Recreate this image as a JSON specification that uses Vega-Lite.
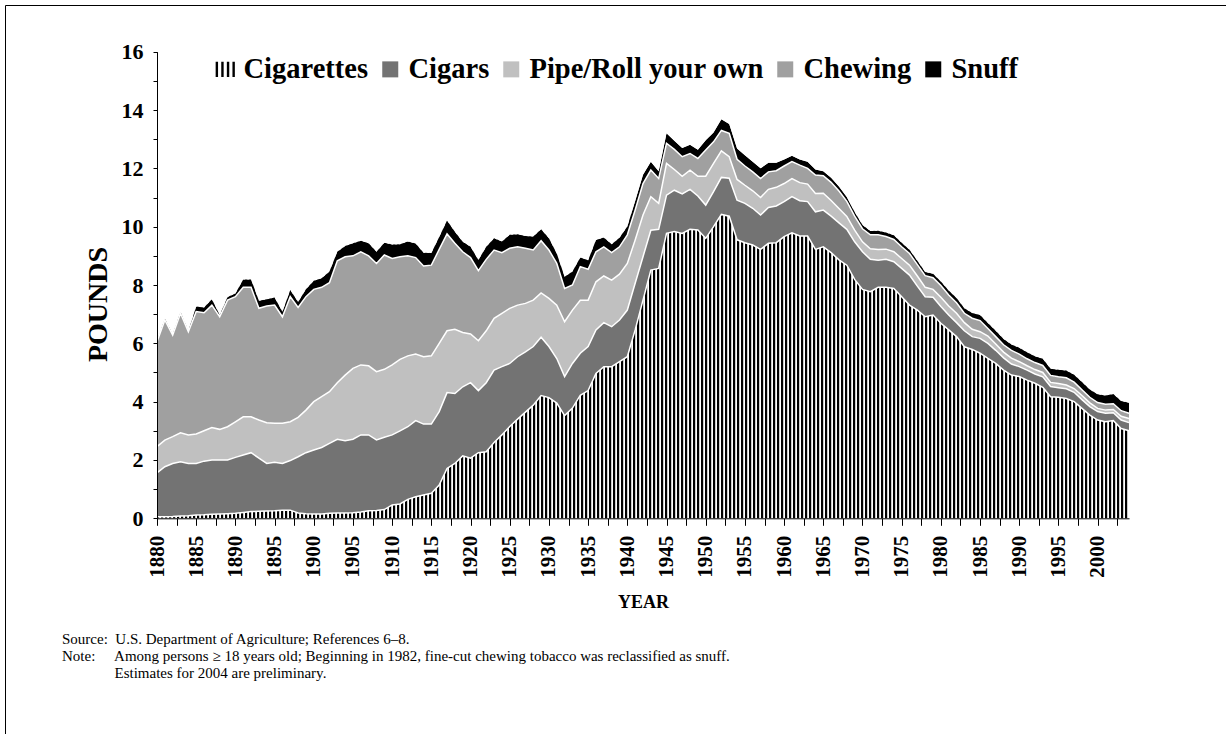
{
  "$schema": "https://vega.github.io/schema/vega-lite/v6.json",
  "width": 1221,
  "height": 729,
  "autosize": {"type": "none"},
  "padding": {"left": 5, "top": 5, "right": 0, "bottom": 0},
  "background": "white",
  "config": {
    "font": "Liberation Serif",
    "view": {"stroke": "#000", "strokeWidth": 1, "fill": "white"},
    "axis": {"labelFont": "Liberation Serif", "titleFont": "Liberation Serif", "labelColor": "#000", "titleColor": "#000", "domainColor": "#000", "tickColor": "#000", "grid": false}
  },
  "title": {
    "text": [
      "Source:\u00a0\u00a0U.S. Department of Agriculture; References 6\u20138.",
      "Note:\u00a0\u00a0\u00a0\u00a0\u00a0Among persons \u2265 18 years old; Beginning in 1982, fine-cut chewing tobacco was reclassified as snuff.",
      "\u200b\u00a0\u00a0\u00a0\u00a0\u00a0\u00a0\u00a0\u00a0\u00a0\u00a0\u00a0\u00a0\u00a0\u00a0Estimates for 2004 are preliminary."
    ],
    "orient": "bottom",
    "anchor": "start",
    "frame": "group",
    "offset": -102,
    "dx": 57,
    "font": "Liberation Serif",
    "fontSize": 15,
    "fontWeight": "normal",
    "lineHeight": 17,
    "baseline": "top",
    "color": "#000"
  },
  "data": {
    "values": [
      {"y":1880,"a":0.05,"b":1.51,"c":0.90,"d":3.59,"e":0.03},
      {"y":1881,"a":0.05,"b":1.72,"c":0.91,"d":4.12,"e":0.05},
      {"y":1882,"a":0.06,"b":1.82,"c":0.92,"d":3.48,"e":0.03},
      {"y":1883,"a":0.08,"b":1.86,"c":0.99,"d":4.10,"e":0.05},
      {"y":1884,"a":0.09,"b":1.79,"c":0.98,"d":3.54,"e":0.03},
      {"y":1885,"a":0.11,"b":1.77,"c":1.01,"d":4.20,"e":0.17},
      {"y":1886,"a":0.12,"b":1.84,"c":1.04,"d":4.05,"e":0.18},
      {"y":1887,"a":0.14,"b":1.86,"c":1.11,"d":4.20,"e":0.20},
      {"y":1888,"a":0.15,"b":1.85,"c":1.05,"d":3.86,"e":0.06},
      {"y":1889,"a":0.16,"b":1.84,"c":1.14,"d":4.34,"e":0.11},
      {"y":1890,"a":0.17,"b":1.92,"c":1.22,"d":4.29,"e":0.11},
      {"y":1891,"a":0.20,"b":1.97,"c":1.31,"d":4.44,"e":0.27},
      {"y":1892,"a":0.23,"b":2.02,"c":1.23,"d":4.44,"e":0.27},
      {"y":1893,"a":0.24,"b":1.82,"c":1.31,"d":3.83,"e":0.26},
      {"y":1894,"a":0.25,"b":1.63,"c":1.40,"d":4.00,"e":0.23},
      {"y":1895,"a":0.26,"b":1.66,"c":1.34,"d":4.05,"e":0.26},
      {"y":1896,"a":0.28,"b":1.60,"c":1.38,"d":3.65,"e":0.17},
      {"y":1897,"a":0.28,"b":1.70,"c":1.33,"d":4.29,"e":0.23},
      {"y":1898,"a":0.18,"b":1.93,"c":1.35,"d":3.77,"e":0.19},
      {"y":1899,"a":0.16,"b":2.09,"c":1.46,"d":3.89,"e":0.25},
      {"y":1900,"a":0.15,"b":2.19,"c":1.66,"d":3.85,"e":0.30},
      {"y":1901,"a":0.15,"b":2.28,"c":1.74,"d":3.75,"e":0.31},
      {"y":1902,"a":0.17,"b":2.40,"c":1.77,"d":3.74,"e":0.38},
      {"y":1903,"a":0.18,"b":2.53,"c":1.94,"d":4.18,"e":0.31},
      {"y":1904,"a":0.18,"b":2.48,"c":2.25,"d":4.06,"e":0.37},
      {"y":1905,"a":0.19,"b":2.52,"c":2.43,"d":3.86,"e":0.43},
      {"y":1906,"a":0.22,"b":2.64,"c":2.40,"d":3.88,"e":0.38},
      {"y":1907,"a":0.26,"b":2.60,"c":2.37,"d":3.77,"e":0.43},
      {"y":1908,"a":0.27,"b":2.42,"c":2.34,"d":3.71,"e":0.40},
      {"y":1909,"a":0.30,"b":2.48,"c":2.33,"d":3.92,"e":0.42},
      {"y":1910,"a":0.46,"b":2.40,"c":2.40,"d":3.65,"e":0.48},
      {"y":1911,"a":0.49,"b":2.51,"c":2.45,"d":3.52,"e":0.43},
      {"y":1912,"a":0.65,"b":2.49,"c":2.43,"d":3.43,"e":0.49},
      {"y":1913,"a":0.74,"b":2.61,"c":2.28,"d":3.31,"e":0.48},
      {"y":1914,"a":0.80,"b":2.43,"c":2.31,"d":3.11,"e":0.46},
      {"y":1915,"a":0.86,"b":2.37,"c":2.34,"d":3.11,"e":0.42},
      {"y":1916,"a":1.14,"b":2.52,"c":2.34,"d":3.22,"e":0.43},
      {"y":1917,"a":1.71,"b":2.60,"c":2.12,"d":3.32,"e":0.46},
      {"y":1918,"a":1.88,"b":2.40,"c":2.20,"d":2.95,"e":0.40},
      {"y":1919,"a":2.14,"b":2.37,"c":1.86,"d":2.77,"e":0.34},
      {"y":1920,"a":2.06,"b":2.59,"c":1.67,"d":2.62,"e":0.37},
      {"y":1921,"a":2.25,"b":2.13,"c":1.71,"d":2.40,"e":0.37},
      {"y":1922,"a":2.28,"b":2.37,"c":1.78,"d":2.45,"e":0.43},
      {"y":1923,"a":2.60,"b":2.48,"c":1.78,"d":2.34,"e":0.40},
      {"y":1924,"a":2.86,"b":2.34,"c":1.83,"d":2.08,"e":0.38},
      {"y":1925,"a":3.15,"b":2.16,"c":1.89,"d":2.06,"e":0.46},
      {"y":1926,"a":3.40,"b":2.14,"c":1.77,"d":2.00,"e":0.43},
      {"y":1927,"a":3.64,"b":2.07,"c":1.66,"d":1.89,"e":0.42},
      {"y":1928,"a":3.88,"b":2.01,"c":1.59,"d":1.72,"e":0.46},
      {"y":1929,"a":4.21,"b":2.00,"c":1.52,"d":1.79,"e":0.39},
      {"y":1930,"a":4.14,"b":1.75,"c":1.65,"d":1.66,"e":0.40},
      {"y":1931,"a":3.95,"b":1.53,"c":1.83,"d":1.43,"e":0.34},
      {"y":1932,"a":3.52,"b":1.34,"c":1.88,"d":1.14,"e":0.40},
      {"y":1933,"a":3.78,"b":1.53,"c":1.83,"d":0.86,"e":0.46},
      {"y":1934,"a":4.22,"b":1.44,"c":1.82,"d":1.15,"e":0.31},
      {"y":1935,"a":4.38,"b":1.51,"c":1.59,"d":1.06,"e":0.31},
      {"y":1936,"a":4.97,"b":1.49,"c":1.65,"d":1.03,"e":0.40},
      {"y":1937,"a":5.20,"b":1.51,"c":1.60,"d":1.00,"e":0.32},
      {"y":1938,"a":5.20,"b":1.37,"c":1.60,"d":0.94,"e":0.29},
      {"y":1939,"a":5.37,"b":1.43,"c":1.57,"d":0.94,"e":0.31},
      {"y":1940,"a":5.54,"b":1.60,"c":1.60,"d":0.98,"e":0.29},
      {"y":1941,"a":6.46,"b":1.60,"c":1.48,"d":1.03,"e":0.31},
      {"y":1942,"a":7.48,"b":1.49,"c":1.43,"d":1.08,"e":0.30},
      {"y":1943,"a":8.51,"b":1.37,"c":1.15,"d":0.91,"e":0.29},
      {"y":1944,"a":8.57,"b":1.34,"c":0.89,"d":0.85,"e":0.25},
      {"y":1945,"a":9.77,"b":1.31,"c":1.09,"d":0.69,"e":0.34},
      {"y":1946,"a":9.83,"b":1.42,"c":0.71,"d":0.69,"e":0.30},
      {"y":1947,"a":9.77,"b":1.35,"c":0.61,"d":0.67,"e":0.30},
      {"y":1948,"a":9.91,"b":1.37,"c":0.66,"d":0.57,"e":0.30},
      {"y":1949,"a":9.89,"b":1.16,"c":0.68,"d":0.61,"e":0.30},
      {"y":1950,"a":9.60,"b":1.14,"c":0.99,"d":0.90,"e":0.33},
      {"y":1951,"a":10.00,"b":1.20,"c":0.97,"d":0.74,"e":0.32},
      {"y":1952,"a":10.42,"b":1.27,"c":0.91,"d":0.70,"e":0.38},
      {"y":1953,"a":10.36,"b":1.30,"c":0.74,"d":0.80,"e":0.32},
      {"y":1954,"a":9.55,"b":1.36,"c":0.71,"d":0.69,"e":0.37},
      {"y":1955,"a":9.45,"b":1.35,"c":0.62,"d":0.66,"e":0.37},
      {"y":1956,"a":9.37,"b":1.26,"c":0.60,"d":0.65,"e":0.35},
      {"y":1957,"a":9.22,"b":1.18,"c":0.60,"d":0.65,"e":0.35},
      {"y":1958,"a":9.43,"b":1.23,"c":0.62,"d":0.60,"e":0.31},
      {"y":1959,"a":9.45,"b":1.26,"c":0.64,"d":0.57,"e":0.27},
      {"y":1960,"a":9.66,"b":1.20,"c":0.62,"d":0.60,"e":0.22},
      {"y":1961,"a":9.79,"b":1.24,"c":0.62,"d":0.58,"e":0.20},
      {"y":1962,"a":9.68,"b":1.21,"c":0.62,"d":0.60,"e":0.19},
      {"y":1963,"a":9.68,"b":1.18,"c":0.60,"d":0.54,"e":0.23},
      {"y":1964,"a":9.22,"b":1.29,"c":0.63,"d":0.63,"e":0.19},
      {"y":1965,"a":9.31,"b":1.26,"c":0.58,"d":0.60,"e":0.15},
      {"y":1966,"a":9.11,"b":1.25,"c":0.54,"d":0.62,"e":0.16},
      {"y":1967,"a":8.86,"b":1.27,"c":0.49,"d":0.60,"e":0.16},
      {"y":1968,"a":8.68,"b":1.23,"c":0.44,"d":0.52,"e":0.15},
      {"y":1969,"a":8.19,"b":1.29,"c":0.40,"d":0.48,"e":0.14},
      {"y":1970,"a":7.85,"b":1.29,"c":0.34,"d":0.45,"e":0.13},
      {"y":1971,"a":7.77,"b":1.11,"c":0.36,"d":0.48,"e":0.13},
      {"y":1972,"a":7.92,"b":0.93,"c":0.37,"d":0.50,"e":0.14},
      {"y":1973,"a":7.92,"b":0.96,"c":0.35,"d":0.43,"e":0.14},
      {"y":1974,"a":7.88,"b":0.92,"c":0.34,"d":0.42,"e":0.15},
      {"y":1975,"a":7.60,"b":0.97,"c":0.34,"d":0.40,"e":0.14},
      {"y":1976,"a":7.31,"b":1.03,"c":0.34,"d":0.40,"e":0.13},
      {"y":1977,"a":7.14,"b":0.82,"c":0.35,"d":0.39,"e":0.13},
      {"y":1978,"a":6.91,"b":0.69,"c":0.32,"d":0.40,"e":0.13},
      {"y":1979,"a":6.97,"b":0.61,"c":0.27,"d":0.40,"e":0.14},
      {"y":1980,"a":6.69,"b":0.57,"c":0.32,"d":0.40,"e":0.14},
      {"y":1981,"a":6.46,"b":0.51,"c":0.31,"d":0.38,"e":0.15},
      {"y":1982,"a":6.23,"b":0.48,"c":0.32,"d":0.36,"e":0.16},
      {"y":1983,"a":5.88,"b":0.55,"c":0.28,"d":0.32,"e":0.17},
      {"y":1984,"a":5.79,"b":0.44,"c":0.25,"d":0.38,"e":0.18},
      {"y":1985,"a":5.66,"b":0.51,"c":0.23,"d":0.38,"e":0.19},
      {"y":1986,"a":5.48,"b":0.52,"c":0.25,"d":0.26,"e":0.19},
      {"y":1987,"a":5.31,"b":0.45,"c":0.22,"d":0.25,"e":0.20},
      {"y":1988,"a":5.08,"b":0.42,"c":0.20,"d":0.25,"e":0.20},
      {"y":1989,"a":4.91,"b":0.38,"c":0.20,"d":0.27,"e":0.20},
      {"y":1990,"a":4.86,"b":0.34,"c":0.17,"d":0.26,"e":0.22},
      {"y":1991,"a":4.74,"b":0.34,"c":0.15,"d":0.24,"e":0.22},
      {"y":1992,"a":4.63,"b":0.32,"c":0.15,"d":0.24,"e":0.22},
      {"y":1993,"a":4.49,"b":0.36,"c":0.15,"d":0.24,"e":0.23},
      {"y":1994,"a":4.17,"b":0.35,"c":0.14,"d":0.24,"e":0.23},
      {"y":1995,"a":4.15,"b":0.33,"c":0.14,"d":0.23,"e":0.24},
      {"y":1996,"a":4.11,"b":0.33,"c":0.13,"d":0.25,"e":0.25},
      {"y":1997,"a":4.00,"b":0.32,"c":0.13,"d":0.22,"e":0.25},
      {"y":1998,"a":3.77,"b":0.30,"c":0.14,"d":0.20,"e":0.26},
      {"y":1999,"a":3.54,"b":0.29,"c":0.13,"d":0.19,"e":0.27},
      {"y":2000,"a":3.37,"b":0.29,"c":0.11,"d":0.20,"e":0.28},
      {"y":2001,"a":3.31,"b":0.29,"c":0.11,"d":0.20,"e":0.30},
      {"y":2002,"a":3.35,"b":0.27,"c":0.11,"d":0.20,"e":0.33},
      {"y":2003,"a":3.08,"b":0.29,"c":0.13,"d":0.19,"e":0.33},
      {"y":2004,"a":3.00,"b":0.28,"c":0.14,"d":0.18,"e":0.36}
    ]
  },
  "transform": [
    {"fold": ["a", "b", "c", "d", "e"], "as": ["k", "v"]},
    {"stack": "v", "groupby": ["y"], "sort": [{"field": "k", "order": "ascending"}], "as": ["v0", "v1"]}
  ],
  "encoding": {
    "x": {
      "field": "y",
      "type": "quantitative",
      "scale": {"domain": [1880, 2004], "range": [152, 1124], "nice": false, "zero": false},
      "axis": {
        "values": [1880,1882.5,1885,1887.5,1890,1892.5,1895,1897.5,1900,1902.5,1905,1907.5,1910,1912.5,1915,1917.5,1920,1922.5,1925,1927.5,1930,1932.5,1935,1937.5,1940,1942.5,1945,1947.5,1950,1952.5,1955,1957.5,1960,1962.5,1965,1967.5,1970,1972.5,1975,1977.5,1980,1982.5,1985,1987.5,1990,1992.5,1995,1997.5,2000,2002.5],
        "format": "d",
        "labelExpr": "datum.value % 5 === 0 ? datum.label : ''",
        "labelAngle": -90,
        "labelFontSize": 21,
        "labelFontWeight": "bold",
        "labelPadding": 10,
        "labelOverlap": false,
        "labelFlush": false,
        "tickSize": 7,
        "title": "YEAR",
        "titleFontSize": 18,
        "titleFontWeight": "bold",
        "titlePadding": 16,
        "offset": -215.7,
        "zindex": 1
      }
    },
    "y": {
      "field": "v1",
      "type": "quantitative",
      "scale": {"domain": [0, 16], "range": [513.3, 46.7], "nice": false},
      "axis": {
        "values": [0,1,2,3,4,5,6,7,8,9,10,11,12,13,14,15,16],
        "labelExpr": "datum.value % 2 === 0 ? datum.label : ''",
        "labelFontSize": 22,
        "labelFontWeight": "bold",
        "labelPadding": 10,
        "tickSize": 4,
        "title": "POUNDS",
        "titleFontSize": 28,
        "titleFontWeight": "bold",
        "titlePadding": 9,
        "titleY": 299,
        "offset": -152,
        "zindex": 1
      }
    }
  },
  "layer": [
    {
      "transform": [{"filter": "datum.y === 1880 && datum.k === 'a'"}],
      "mark": {"type": "rule", "color": "#000", "strokeWidth": 309, "strokeDash": [2.2, 1.8], "strokeCap": "butt"},
      "encoding": {
        "x": {"datum": 1880, "type": "quantitative"},
        "x2": {"datum": 2004},
        "y": {"datum": 5.3, "type": "quantitative"}
      }
    },
    {
      "mark": {"type": "area", "interpolate": "linear"},
      "encoding": {
        "y2": {"field": "v0"},
        "color": {
          "field": "k",
          "type": "nominal",
          "scale": {"domain": ["a", "b", "c", "d", "e"], "range": ["#000000", "#737373", "#c0c0c0", "#a0a0a0", "#000000"]},
          "legend": {
            "orient": "none",
            "legendX": 206,
            "legendY": 50,
            "direction": "horizontal",
            "title": null,
            "padding": 0,
            "labelExpr": "datum.label === 'a' ? 'Cigarettes' : datum.label === 'b' ? 'Cigars' : datum.label === 'c' ? 'Pipe/Roll your own' : datum.label === 'd' ? 'Chewing\u00a0' : 'Snuff'",
            "labelFont": "Liberation Serif",
            "labelFontSize": 28.5,
            "labelFontWeight": "bold",
            "labelColor": "#000",
            "labelLimit": 400,
            "labelOffset": 4,
            "columnPadding": 7,
            "symbolType": "square",
            "symbolSize": 256,
            "symbolStrokeWidth": 0,
            "symbolOpacity": 1,
            "encode": {
              "symbols": {
                "update": {
                  "shape": {"signal": "datum.value === 'a' ? 'M-1.2,-0.95h0.3v1.9h-0.3zM-0.5,-0.95h0.3v1.9h-0.3zM0.2,-0.95h0.3v1.9h-0.3zM0.9,-0.95h0.3v1.9h-0.3z' : 'square'"},
                  "opacity": {"value": 1},
                  "fillOpacity": {"value": 1}
                }
              }
            }
          }
        },
        "fillOpacity": {"condition": {"test": "datum.k === 'a'", "value": 0}, "value": 1}
      }
    },
    {
      "transform": [{"filter": "datum.k === 'e'"}],
      "mark": {"type": "area", "color": "white"},
      "encoding": {
        "y2": {"datum": 16}
      }
    },
    {
      "transform": [{"filter": "datum.k !== 'e'"}],
      "mark": {"type": "line", "color": "white", "strokeWidth": 1.5},
      "encoding": {
        "detail": {"field": "k"}
      }
    }
  ]
}
